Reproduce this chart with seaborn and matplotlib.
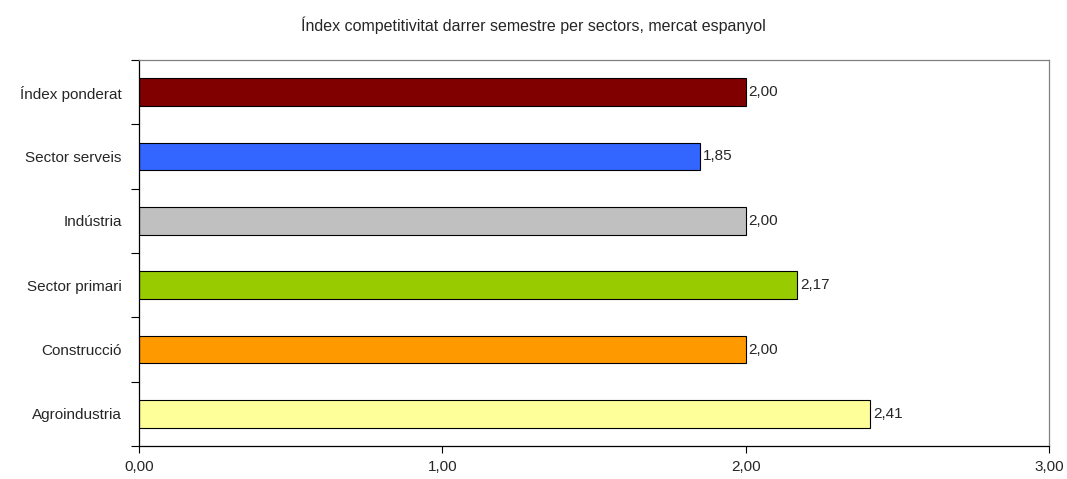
import matplotlib
matplotlib.use("Agg")
import matplotlib.pyplot as plt
import seaborn as sns
import pandas as pd
from matplotlib.ticker import FixedLocator

# Data
sectors = ["Índex ponderat", "Sector serveis", "Indústria",
           "Sector primari", "Construcció", "Agroindustria"]
values = [2.00, 1.85, 2.00, 2.17, 2.00, 2.41]
colors = ["#800000", "#3366FF", "#C0C0C0", "#99CC00", "#FF9900", "#FFFF99"]
x_ticks = [0, 1, 2, 3]

df = pd.DataFrame({"sector": sectors, "value": values})

sns.set_style("white")
plt.rcParams["font.family"] = ["Liberation Sans", "DejaVu Sans"]

fig = plt.figure(figsize=(10.67, 4.79), dpi=100)
ax = fig.add_axes([139 / 1067, 1 - 446 / 479, (1049 - 139) / 1067, (446 - 60) / 479])

sns.barplot(data=df, x="value", y="sector", hue="sector", palette=colors,
            legend=False, width=0.43, edgecolor="black", linewidth=0.8,
            saturation=1, ax=ax)

ax.set_xlim(0, 3)
ax.set_ylim(len(sectors) - 0.5, -0.5)
ax.set_xlabel("")
ax.set_ylabel("")


def comma(v):
    return f"{v:.2f}".replace(".", ",")


ax.set_xticks(x_ticks, labels=[comma(t) for t in x_ticks])
ax.tick_params(axis="x", which="major", bottom=True, length=5, width=0.8,
               color="black", labelsize=11, pad=5)

# y ticks at category boundaries
ax.yaxis.set_minor_locator(FixedLocator([i - 0.5 for i in range(len(sectors) + 1)]))
ax.tick_params(axis="y", which="major", left=False, labelsize=11, pad=9)
ax.tick_params(axis="y", which="minor", left=True, length=6, width=0.8, color="black")

for name in ["left", "bottom"]:
    ax.spines[name].set_color("black")
    ax.spines[name].set_linewidth(0.9)
for name in ["top", "right"]:
    ax.spines[name].set_color("#808080")
    ax.spines[name].set_linewidth(0.9)

for i, v in enumerate(values):
    ax.text(v + 0.01, i, comma(v), va="center", ha="left", fontsize=11)

fig.text(0.5, 1 - 25 / 479, "Índex competitivitat darrer semestre per sectors, mercat espanyol",
         ha="center", va="center", fontsize=11.5)

fig.savefig("out.png", dpi=100)
